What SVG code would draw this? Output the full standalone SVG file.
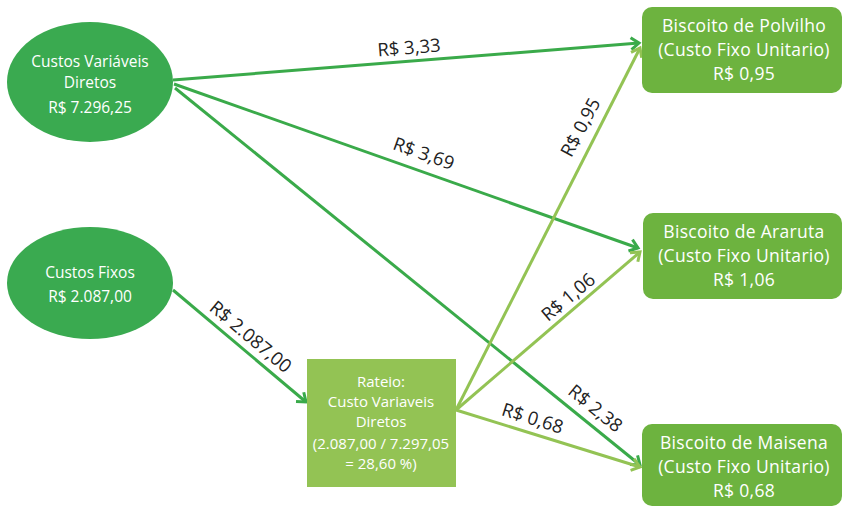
<svg xmlns="http://www.w3.org/2000/svg" width="844" height="507" viewBox="0 0 844 507">
<style>
.ell{fill:#3aaa50}
.box{fill:#6db33f}
.rat{fill:#93c354}
.nt{font-family:"Open Sans","Liberation Sans",sans-serif;font-weight:400;fill:#fff;text-anchor:middle}
.bt{font-family:"Open Sans","Liberation Sans",sans-serif;font-weight:400;font-size:17.5px;letter-spacing:0.3px;fill:#fff;text-anchor:middle}
.dk{stroke:#3aaa4a;stroke-width:3;fill:none}
.lt{stroke:#93c354;stroke-width:3;fill:none}
.lb{font-family:"Open Sans","Liberation Sans",sans-serif;font-size:18.5px;fill:#222;text-anchor:middle}
</style>
<defs>
<marker id="ad" markerUnits="userSpaceOnUse" markerWidth="16" markerHeight="16" refX="12" refY="8" orient="auto" viewBox="0 0 16 16">
<path d="M4,2 L12,8 L4,14" fill="none" stroke="#3aaa4a" stroke-width="3"/>
</marker>
<marker id="al" markerUnits="userSpaceOnUse" markerWidth="16" markerHeight="16" refX="12" refY="8" orient="auto" viewBox="0 0 16 16">
<path d="M4,2 L12,8 L4,14" fill="none" stroke="#93c354" stroke-width="3"/>
</marker>
</defs>
<rect width="844" height="507" fill="#fff"/>
<g id="connectors">
<line class="dk" x1="173" y1="80" x2="639" y2="43" marker-end="url(#ad)"/>
<line class="dk" x1="174" y1="84" x2="638" y2="248" marker-end="url(#ad)"/>
<line class="dk" x1="175" y1="88" x2="640" y2="465" marker-end="url(#ad)"/>
<line class="dk" x1="173" y1="290" x2="306" y2="402" marker-end="url(#ad)"/>
<line class="lt" x1="456" y1="410" x2="640" y2="48" marker-end="url(#al)"/>
<line class="lt" x1="456" y1="410" x2="640" y2="252" marker-end="url(#al)"/>
<line class="lt" x1="456" y1="410" x2="640" y2="467" marker-end="url(#al)"/>
<text class="lb" transform="translate(410,61) rotate(-4.5)" y="-7">R$ 3,33</text>
<text class="lb" transform="translate(418,170) rotate(19.4)" y="-11">R$ 3,69</text>
<text class="lb" transform="translate(585,421) rotate(39.2)" y="-10">R$ 2,38</text>
<text class="lb" transform="translate(242,347) rotate(40)" y="-7">R$ 2.087,00</text>
<text class="lb" transform="translate(595,135) rotate(-62)" y="-10">R$ 0,95</text>
<text class="lb" transform="translate(578,309) rotate(-39.7)" y="-9">R$ 1,06</text>
<text class="lb" transform="translate(528,433) rotate(17.5)" y="-9">R$ 0,68</text>
</g>
<g id="cvd">
<ellipse class="ell" cx="90" cy="82" rx="83" ry="60"/>
<text class="nt" font-size="15.5" x="90" y="67">Custos Variáveis</text>
<text class="nt" font-size="15.5" x="90" y="88">Diretos</text>
<text class="nt" font-size="15.5" x="90" y="113">R$ 7.296,25</text>
</g>
<g id="cf">
<ellipse class="ell" cx="90" cy="283" rx="83" ry="56"/>
<text class="nt" font-size="15.5" x="90" y="278">Custos Fixos</text>
<text class="nt" font-size="15.5" x="90" y="302">R$ 2.087,00</text>
</g>
<g id="rateio">
<rect class="rat" x="307" y="359" width="149" height="128"/>
<text class="nt" font-size="15" x="381" y="387">Rateio:</text>
<text class="nt" font-size="15" x="381" y="407">Custo Variaveis</text>
<text class="nt" font-size="15" x="381" y="427">Diretos</text>
<text class="nt" font-size="15" x="381" y="449">(2.087,00 / 7.297,05</text>
<text class="nt" font-size="15" x="381" y="469">= 28,60 %)</text>
</g>
<g id="polvilho">
<rect class="box" x="642" y="7" width="200" height="86" rx="10"/>
<text class="bt" x="744" y="32">Biscoito de Polvilho</text>
<text class="bt" x="744" y="56">(Custo Fixo Unitario)</text>
<text class="bt" x="744" y="80">R$ 0,95</text>
</g>
<g id="araruta">
<rect class="box" x="643" y="213" width="199" height="86" rx="10"/>
<text class="bt" x="744" y="238">Biscoito de Araruta</text>
<text class="bt" x="744" y="262">(Custo Fixo Unitario)</text>
<text class="bt" x="744" y="286">R$ 1,06</text>
</g>
<g id="maisena">
<rect class="box" x="642" y="424" width="200" height="82" rx="10"/>
<text class="bt" x="744" y="449">Biscoito de Maisena</text>
<text class="bt" x="744" y="473">(Custo Fixo Unitario)</text>
<text class="bt" x="744" y="497">R$ 0,68</text>
</g>
</svg>
